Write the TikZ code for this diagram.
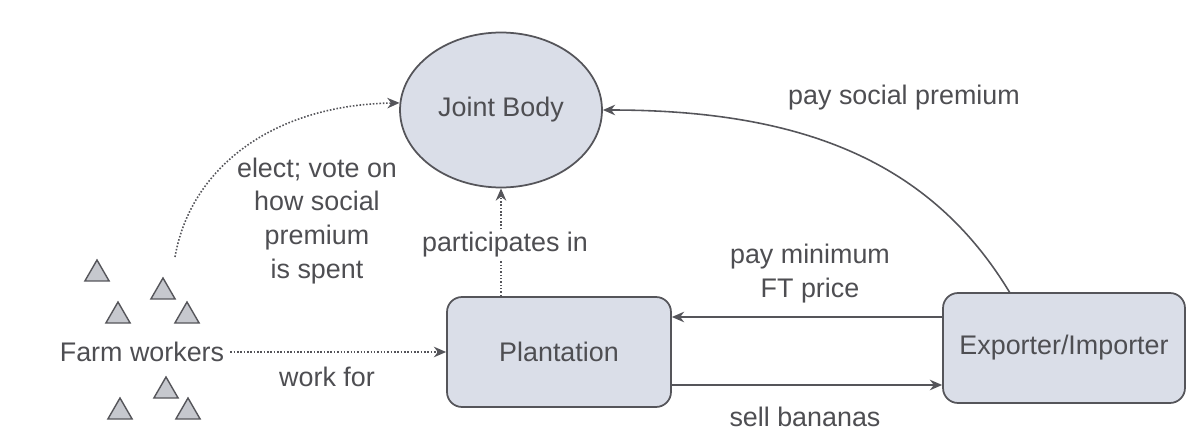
\documentclass[tikz,border=0pt]{standalone}
\usepackage{fontspec}
\setmainfont{Liberation Sans}
\usetikzlibrary{shapes.geometric,arrows.meta,calc}

\definecolor{inkgray}{RGB}{85,85,90}
\definecolor{textgray}{RGB}{78,78,82}
\definecolor{bodyfill}{RGB}{218,222,232}
\definecolor{workerfill}{RGB}{198,200,206}

\tikzset{
	entity/.style={draw=inkgray, fill=bodyfill, line width=1pt, text=textgray},
	boxnode/.style={entity, rectangle, rounded corners=0.3cm, minimum height=2.2cm},
	worker/.style={draw=inkgray, fill=workerfill, line width=0.8pt, regular polygon, regular polygon sides=3, minimum size=0.56cm, inner sep=0pt},
	flow/.style={draw=inkgray, line width=0.9pt, -{Stealth[length=7pt,width=6pt]}},
	lbl/.style={text=textgray}
}

\begin{document}
\begin{tikzpicture}[x=0.02cm,y=-0.02cm,every node/.style={font=\fontsize{15.3}{19.3}\selectfont},every text node part/.style={align=center}]
	\useasboundingbox (0,0) rectangle (1187,446);

		% Actors
        \node[entity, ellipse, minimum width=4.04cm, minimum height=3.1cm] (Joint) at (501,110) {Joint Body};
        \node[boxnode, minimum width=4.48cm] (Plant) at (559,352) {Plantation};
        \node[boxnode, minimum width=4.84cm] (Exp) at (1064,348) {Exporter/Importer};
        \node[lbl] (Farm) at (142,352) {Farm workers};

		% Workers
        \foreach \tx/\ty [count=\i] in {97/274, 163/292, 118/316, 187/316, 166/391, 120/412, 188/412}
            \node[worker] (w\i) at (\tx,\ty) {};

        \coordinate (crowdTop) at (175,257);
        \coordinate (expTop)   at (1010,293);
        \coordinate (payIn)    at ([yshift=0.62cm]Exp.west);
        \coordinate (sellOut)  at ([yshift=-0.66cm]Plant.east);
        \coordinate (partOut)  at (Joint.south |- Plant.north);

    	\draw [flow, densely dotted] (crowdTop) .. controls (190,170) and (270,105) .. (Joint.176);
		\draw [flow, densely dotted] (Farm.east) to (Plant.west);
		\draw [flow, densely dotted] (partOut)   to (Joint.south);
		\draw [flow] (payIn)   to (payIn -| Plant.east);
		\draw [flow] (sellOut) to (sellOut -| Exp.west);
		\draw [flow] (expTop) .. controls (930,160) and (800,110) .. (Joint.east);

		% Labels
        \node[lbl] (electTxt) at (317,221) {elect; vote on\\how social\\premium\\is spent};
        \node[lbl, fill=white, inner sep=1pt] (partTxt) at (505,245) {participates in};
        \node[lbl] (workTxt) at (327,377) {work for};
        \node[lbl] (minTxt) at (810,274) {pay minimum\\FT price};
        \node[lbl] (sellTxt) at (805,417) {sell bananas};
        \node[lbl] (socTxt) at (904,98) {pay social premium};

	\end{tikzpicture}
\end{document}
